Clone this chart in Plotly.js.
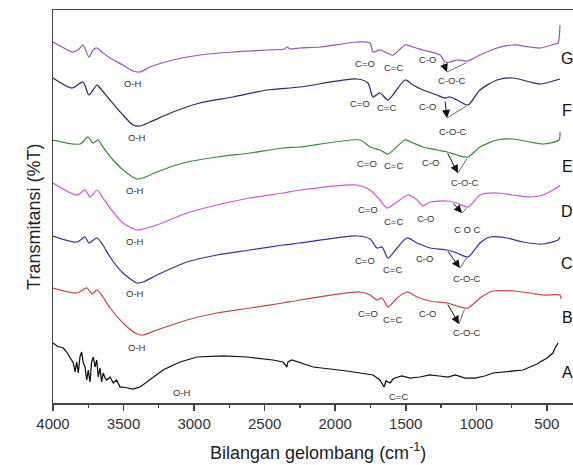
<!DOCTYPE html>
<html>
<head>
<meta charset="utf-8">
<script src="https://cdn.plot.ly/plotly-3.0.1.min.js"></script>
<style>html,body{margin:0;padding:0;background:#fff;}#chart{width:573px;height:465px;}</style>
</head>
<body>
<div id="chart"></div>
<script>
// Wavenumbers (cm^-1) and offset transmittance readings (arbitrary units) for each spectrum
const wnG = [4000,3936,3865,3823,3787,3745,3717,3688,3653,3596,3504,3433,3383,3313,3150,2958,2724,2483,2360,2342,2320,2250,2108,1846,1753,1732,1683,1590,1505,1448,1378,1257,1222,1186,1137,1059,974,853,740,620,549,443,421,407];
const tG  = [361,356,351,353,358,346,353,355,351,345,338,332,331,336,343,348,351,353,354,356,354,355,356,361,360,351,353,348,358,356,353,348,341,341,343,342,348,355,358,356,355,359,360,378];

const wnF = [4000,3865,3787,3745,3688,3667,3596,3504,3433,3383,3313,3150,2958,2724,2483,2250,1846,1768,1732,1683,1626,1505,1449,1378,1279,1222,1186,1137,1059,974,853,740,620,549,407];
const tF  = [325,315,321,308,318,315,303,288,278,277,281,291,300,306,313,316,324,320,306,310,303,323,318,313,308,305,306,303,298,313,323,325,321,319,324];

const wnE = [4000,3809,3752,3717,3681,3646,3575,3476,3405,3362,3263,3079,2838,2604,2370,2250,1824,1753,1683,1626,1505,1449,1378,1279,1208,1137,1059,974,853,740,620,527,414,407];
const tE  = [263,259,266,260,263,256,243,230,224,225,231,240,246,250,255,256,263,256,253,249,263,260,256,253,251,248,246,256,263,264,261,259,263,271];

const wnD = [4000,3830,3773,3738,3688,3646,3596,3504,3405,3362,3263,3050,2838,2604,2370,2250,1846,1753,1683,1633,1562,1484,1420,1378,1328,1208,1137,1059,974,853,740,620,527,421,407];
const tD  = [220,208,213,206,213,205,195,180,173,174,178,190,198,205,210,213,218,213,203,195,201,208,203,197,201,202,200,196,208,210,208,206,208,216,218];

const wnC = [4000,3830,3773,3745,3688,3646,3596,3504,3405,3362,3263,3050,2838,2604,2370,2250,1846,1753,1704,1668,1626,1562,1491,1420,1328,1208,1137,1059,974,903,782,669,527,421,407];
const tC  = [167,161,166,160,165,158,146,130,120,121,128,141,148,153,158,160,167,164,155,156,145,155,165,160,155,153,150,146,160,166,165,161,159,163,166];

const wnB = [4000,3830,3759,3724,3688,3646,3596,3504,3405,3362,3263,3050,2838,2604,2370,2250,1824,1753,1704,1668,1626,1562,1491,1420,1328,1208,1137,1059,974,882,740,620,527,407,400];
const tB  = [115,110,115,109,113,106,95,80,69,68,73,83,90,95,100,103,111,108,103,105,96,105,111,106,102,100,97,95,105,112,112,110,108,108,104];

const wnA = [4000,3972,3950,3927,3903,3880,3856,3844,3832,3821,3809,3797,3785,3773,3761,3750,3738,3726,3714,3702,3690,3679,3667,3655,3644,3631,3619,3596,3573,3549,3525,3504,3468,3433,3383,3313,3220,3100,2979,2795,2625,2441,2370,2342,2335,2306,2157,1916,1732,1683,1654,1640,1612,1590,1576,1527,1470,1400,1330,1264,1200,1150,1080,1009,940,882,800,669,570,549,499,457,443,428,421];
const tA  = [60,57,56,55,51,46,40,31,41,30,46,51,40,36,23,33,21,41,46,36,43,26,35,21,30,25,23,26,20,23,16,16,15,14,16,23,33,41,46,47,46,43,41,36,41,43,36,32,28,23,16,22,20,24,25,27,25,26,28,27,26,28,25,25,27,30,31,33,39,41,45,50,55,58,60];

const seriesNames  = ['A','B','C','D','E','F','G'];
const seriesColors = ['#111111','#c94848','#34349e','#d255d2','#3e8a3e','#2c2a66','#9a55b8'];

// Band labels: [text, wavenumber, level]
const bandLabels = [
  ['O-H',3433,320],['C=O',1789,340],['C=C',1590,336],['C-O',1349,344],['C-O-C',1172,323],
  ['O-H',3405,266],['C=O',1824,300],['C=C',1633,296],['C-O',1349,297],['C-O-C',1165,272],
  ['O-H',3419,213],['C=O',1775,240],['C=C',1590,238],['C-O',1328,241],['C-O-C',1080,221],
  ['O-H',3419,162],['C=O',1768,194],['C=C',1590,182],['C-O',1357,185],['C O C',1059,174],
  ['O-H',3419,110],['C=O',1789,143],['C=C',1597,134],['C-O',1364,145],['C-O-C',1066,125],
  ['O-H',3405,56],['C=O',1768,90],['C=C',1597,84],['C-O',1349,90],['C-O-C',1066,71],
  ['O-H',3086,11],['C=C',1548,7]
];
// C-O-C pointers: [tipWn, tipLevel, tail1Wn, tail1Level, tail2Wn, tail2Level]
const pointers = [
  [1208,331,1236,341,1059,341],
  [1208,285,1222,303,1059,298],
  [1130,230,1208,251,1059,246],
  [1101,190,1172,201,1059,196],
  [1116,135,1208,153,1059,147],
  [1123,79,1208,100,1080,95]
];
const sampleLabelLevels = [31,86,140,192,237,293,345];

const wns = [wnA,wnB,wnC,wnD,wnE,wnF,wnG];
const ts  = [tA,tB,tC,tD,tE,tF,tG];

const traces = wns.map((w,i)=>({
  x: w, y: ts[i], type:'scatter', mode:'lines', name: seriesNames[i],
  line:{color:seriesColors[i], width:1.25, shape: i===0 ? 'linear' : 'spline', smoothing:0.7}, hoverinfo:'skip'
}));

const font = 'Liberation Sans, Arial, sans-serif';
const ann = [];
bandLabels.forEach(b=>ann.push({x:b[1],y:b[2],xref:'x',yref:'y',text:b[0],showarrow:false,
  font:{family:font,size:9.5,color:'#333'}}));
pointers.forEach(p=>{
  ann.push({x:p[0],y:p[1],ax:p[2],ay:p[3],axref:'x',ayref:'y',xref:'x',yref:'y',text:'',
    showarrow:true,arrowhead:2,arrowsize:1.6,arrowwidth:1,arrowcolor:'#111',standoff:0});
  ann.push({x:p[0],y:p[1],ax:p[4],ay:p[5],axref:'x',ayref:'y',xref:'x',yref:'y',text:'',
    showarrow:true,arrowhead:0,arrowwidth:0.8,arrowcolor:'#444',standoff:0});
});
seriesNames.forEach((n,i)=>ann.push({x:357,y:sampleLabelLevels[i],xref:'x',yref:'y',text:n,showarrow:false,
  font:{family:font,size:16,color:'#111'}}));
ann.push({x:0.51,y:-0.158,xref:'paper',yref:'paper',yanchor:'bottom',text:'Bilangan gelombang (cm<sup>-1</sup>)',showarrow:false,
  font:{family:font,size:18,color:'#222'}});
ann.push({x:-0.06,y:0.473,xref:'paper',yref:'paper',text:'Transmitansi (%T)',textangle:-90,showarrow:false,
  font:{family:font,size:18,color:'#222'}});

const layout = {
  width:573, height:465,
  margin:{l:53,r:0,t:10,b:62},
  paper_bgcolor:'#fff', plot_bgcolor:'#fff',
  showlegend:false,
  xaxis:{range:[4000,314.7], dtick:500, tick0:0, ticks:'outside', ticklen:6, tickwidth:1.5, tickcolor:'#444',
    showline:true, linecolor:'#444', linewidth:1.5, mirror:true, showgrid:false, zeroline:false,
    tickfont:{family:font,size:15,color:'#333'},
    minor:{dtick:250, tick0:0, ticks:'outside', ticklen:3, tickwidth:1.2, tickcolor:'#444', showgrid:false}},
  yaxis:{range:[0,393], showline:true, linecolor:'#444', linewidth:1.5, ticks:'', showticklabels:false,
    showgrid:false, zeroline:false},
  annotations: ann
};
Plotly.newPlot('chart', traces, layout, {displayModeBar:false, staticPlot:true});
</script>
</body>
</html>
